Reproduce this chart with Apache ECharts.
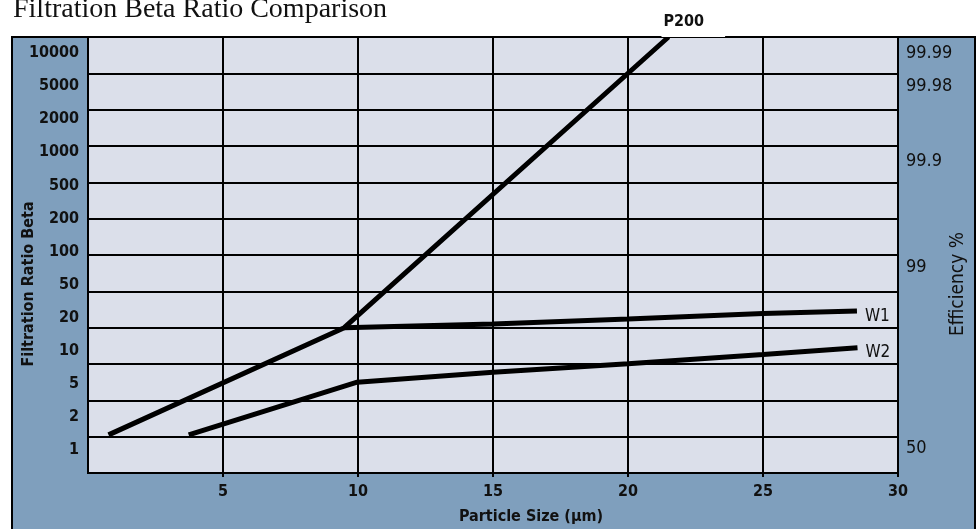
<!DOCTYPE html>
<html><head><meta charset="utf-8">
<script src="https://cdn.jsdelivr.net/npm/echarts@6/dist/echarts.min.js"></script>
<style>html,body{margin:0;padding:0;background:#fff}#c{width:979px;height:529px}</style>
</head><body><div id="c"></div>
<script>
// Tick labels
const betaLabels = ['1','2','5','10','20','50','100','200','500','1000','2000','5000','10000'];
const betaPositions = [0,1,2,3,4,5,6,7,8,9,10,11,12];
const effLabels = ['50','99','99.9','99.98','99.99'];
const effPositions = [0.06, 5.53, 8.74, 11, 12];
const xTicks = [5,10,15,20,25,30];

// Series (x: particle size µm, y: grid step)
const p200X = [0.76, 9.49, 21.5];
const p200Y = [1.05, 4.0, 12];
const w1X = [9.49, 15, 20, 25, 28.48];
const w1Y = [4.0, 4.1, 4.24, 4.39, 4.46];
const w2X = [3.73, 9.97, 15, 20, 25, 28.5];
const w2Y = [1.05, 2.5, 2.77, 3.01, 3.26, 3.45];

const COND = "'Liberation Sans Narrow','DejaVu Sans Condensed','Roboto',sans-serif";
const pair = (xs, ys) => xs.map((x, i) => [x, ys[i]]);

const chart = echarts.init(document.getElementById('c'), null, {renderer: 'canvas'});
const labMin = -0.695, labMax = 12.484;
chart.setOption({
  animation: false,
  backgroundColor: '#ffffff',
  title: {
    text: 'Filtration Beta Ratio Comparison',
    left: 13, top: -4, padding: 0,
    textStyle: {fontFamily: "'Liberation Serif','DejaVu Serif',serif", fontSize: 28, fontWeight: 'normal', color: '#111'}
  },
  graphic: [{
    type: 'rect', z: -10, silent: true,
    shape: {x: 12, y: 37, width: 963, height: 500},
    style: {fill: '#7f9fbd', stroke: '#000', lineWidth: 2}
  }],
  grid: {
    left: 88, top: 37, width: 810, height: 436,
    containLabel: false, outerBoundsMode: 'none',
    show: true, backgroundColor: '#dbdfea', borderColor: '#000', borderWidth: 2
  },
  xAxis: {
    type: 'value', min: 0, max: 30, interval: 5,
    name: 'Particle Size (µm)', nameLocation: 'middle', nameGap: 36, nameMoveOverlap: false,
    nameTextStyle: {fontFamily: COND, fontSize: 16, fontWeight: 'bold', color: '#111', padding: [0, 0, 0, 76]},
    axisLine: {show: false},
    axisTick: {show: true, customValues: xTicks, length: 4, lineStyle: {color: '#000', width: 2}},
    axisLabel: {customValues: xTicks, margin: 11, fontFamily: COND, fontSize: 16, fontWeight: 'bold', color: '#111'},
    splitLine: {show: true, lineStyle: {color: '#000', width: 2}}
  },
  yAxis: [{
    type: 'value', min: 0, max: 12, interval: 1,
    axisLine: {show: false}, axisTick: {show: false}, axisLabel: {show: false},
    splitLine: {show: true, lineStyle: {color: '#000', width: 2}}
  }, {
    type: 'value', position: 'left', min: labMin, max: labMax,
    name: 'Filtration Ratio Beta', nameLocation: 'middle', nameGap: 51, nameRotate: 90, nameMoveOverlap: false,
    nameTextStyle: {fontFamily: COND, fontSize: 16, fontWeight: 'bold', color: '#111', padding: [0, 58, 0, 0]},
    axisLine: {show: false}, axisTick: {show: false}, splitLine: {show: false},
    axisLabel: {
      customValues: betaPositions, margin: 9,
      formatter: v => betaLabels[betaPositions.indexOf(Math.round(v))] || '',
      fontFamily: COND, fontSize: 16, fontWeight: 'bold', color: '#111'
    }
  }, {
    type: 'value', position: 'right', min: labMin, max: labMax,
    name: 'Efficiency %', nameLocation: 'middle', nameGap: 51, nameRotate: 90, nameMoveOverlap: false,
    nameTextStyle: {fontFamily: COND, fontSize: 19, fontWeight: 'normal', color: '#111', padding: [0, 58, 0, 0]},
    axisLine: {show: false}, axisTick: {show: false}, splitLine: {show: false},
    axisLabel: {
      customValues: effPositions, margin: 8,
      formatter: v => {
        let best = 0;
        effPositions.forEach((p, i) => { if (Math.abs(p - v) < Math.abs(effPositions[best] - v)) best = i; });
        return effLabels[best];
      },
      fontFamily: COND, fontSize: 18, fontWeight: 'normal', color: '#111'
    }
  }],
  series: [{
    name: 'P200', type: 'line', yAxisIndex: 0, data: pair(p200X, p200Y),
    symbol: 'none', lineStyle: {color: '#000', width: 5}, z: 5,
    endLabel: {show: true, formatter: 'P200', offset: [-15, -15], backgroundColor: '#fff',
      padding: [4, 21, 10, 2], fontFamily: COND, fontSize: 16, fontWeight: 'bold', color: '#111'}
  }, {
    name: 'W1', type: 'line', yAxisIndex: 0, data: pair(w1X, w1Y),
    symbol: 'none', lineStyle: {color: '#000', width: 5}, z: 4,
    endLabel: {show: true, formatter: 'W1', offset: [0, 6], fontFamily: COND, fontSize: 17, fontWeight: 'normal', color: '#111'}
  }, {
    name: 'W2', type: 'line', yAxisIndex: 0, data: pair(w2X, w2Y),
    symbol: 'none', lineStyle: {color: '#000', width: 5}, z: 4,
    endLabel: {show: true, formatter: 'W2', offset: [0, 5], fontFamily: COND, fontSize: 17, fontWeight: 'normal', color: '#111'}
  }]
});
</script></body></html>
